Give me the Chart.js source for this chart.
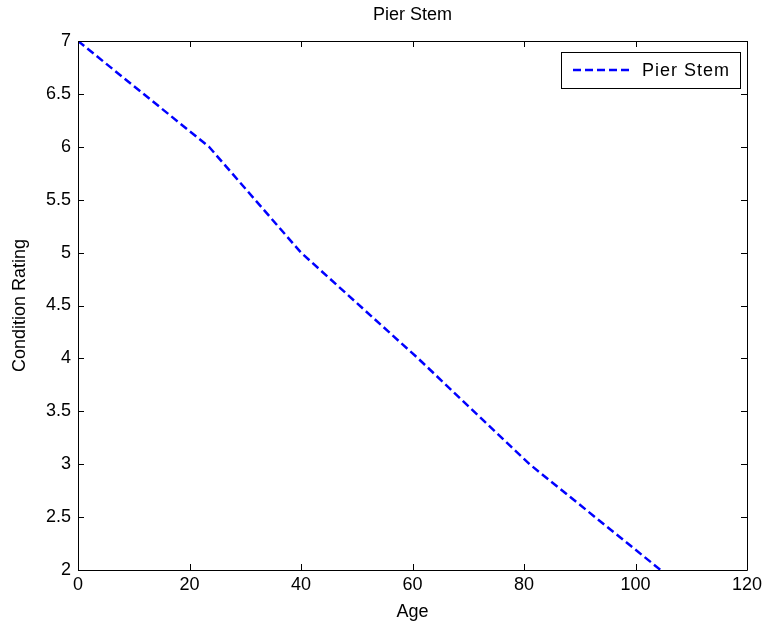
<!DOCTYPE html>
<html>
<head>
<meta charset="utf-8">
<title>Pier Stem</title>
<script src="https://cdn.jsdelivr.net/npm/chart.js@4.4.0/dist/chart.umd.min.js"></script>
<style>
  html, body { margin: 0; padding: 0; background: #fff; }
  #wrap { width: 767px; height: 630px; }
</style>
</head>
<body>
<div id="wrap"><canvas id="chart" width="767" height="630"></canvas></div>
<script>
// deterioration curve: age (years) vs condition rating
const ages = [0, 23.5, 40, 61, 81, 104.5];
const ratings = [7, 6, 5, 4, 3, 2];
const xTicks = [0, 20, 40, 60, 80, 100, 120];
const yTicks = [2, 2.5, 3, 3.5, 4, 4.5, 5, 5.5, 6, 6.5, 7];
const seriesName = 'Pier Stem';
const chartTitle = 'Pier Stem';

const FONT = 'Liberation Sans, Arial, Helvetica, sans-serif';
const FONT_SIZE = 18;

// box around the plot with ticks pointing inward, like matlab axes
const boxAxes = {
  id: 'boxAxes',
  afterDraw(chart) {
    const {ctx, chartArea: a, scales} = chart;
    const tl = 6;
    ctx.save();
    ctx.strokeStyle = '#000';
    ctx.lineWidth = 1;
    ctx.beginPath();
    ctx.rect(Math.round(a.left) + 0.5, Math.round(a.top) + 0.5,
      Math.round(a.right - a.left), Math.round(a.bottom - a.top));
    scales.x.ticks.forEach(t => {
      const px = Math.round(scales.x.getPixelForValue(t.value)) + 0.5;
      ctx.moveTo(px, a.bottom);
      ctx.lineTo(px, a.bottom - tl);
      ctx.moveTo(px, a.top);
      ctx.lineTo(px, a.top + tl);
    });
    scales.y.ticks.forEach(t => {
      const py = Math.round(scales.y.getPixelForValue(t.value)) + 0.5;
      ctx.moveTo(a.left, py);
      ctx.lineTo(a.left + tl, py);
      ctx.moveTo(a.right, py);
      ctx.lineTo(a.right - tl, py);
    });
    ctx.stroke();

    // title centred over the plot box
    ctx.fillStyle = '#000';
    ctx.font = FONT_SIZE + 'px ' + FONT;
    ctx.textAlign = 'center';
    ctx.textBaseline = 'middle';
    ctx.fillText(chartTitle, (a.left + a.right) / 2, 15);
    ctx.restore();
  }
};

// legend box in the upper right corner of the plot
const boxLegend = {
  id: 'boxLegend',
  afterDraw(chart) {
    const {ctx, chartArea: a} = chart;
    const ds = chart.data.datasets[0];
    ctx.save();
    ctx.font = FONT_SIZE + 'px ' + FONT;
    ctx.letterSpacing = '1px';
    const textW = ctx.measureText(ds.label).width;
    const h = 36;
    const right = Math.round(a.right) - 7;
    const top = Math.round(a.top) + 11;
    const w = 12 + 59 + 10 + textW + 10;
    const left = Math.round(right - w);
    ctx.fillStyle = '#fff';
    ctx.fillRect(left, top, right - left, h);
    ctx.strokeStyle = '#000';
    ctx.lineWidth = 1;
    ctx.strokeRect(left + 0.5, top + 0.5, right - left, h);
    ctx.strokeStyle = ds.borderColor;
    ctx.lineWidth = ds.borderWidth;
    ctx.setLineDash(ds.borderDash);
    ctx.beginPath();
    ctx.moveTo(left + 12, top + h / 2);
    ctx.lineTo(left + 71, top + h / 2);
    ctx.stroke();
    ctx.setLineDash([]);
    ctx.fillStyle = '#000';
    ctx.textBaseline = 'middle';
    ctx.fillText(ds.label, left + 81, top + h / 2 + 1);
    ctx.restore();
  }
};

new Chart(document.getElementById('chart'), {
  type: 'line',
  data: {
    datasets: [{
      label: seriesName,
      data: ages.map((a, i) => ({x: a, y: ratings[i]})),
      borderColor: '#0000ff',
      borderWidth: 2.5,
      borderDash: [8, 4],
      pointRadius: 0,
      tension: 0,
      fill: false
    }]
  },
  options: {
    responsive: false,
    animation: false,
    layout: {padding: {top: 41, right: 20, left: 0, bottom: 0}},
    plugins: {
      legend: {display: false},
      tooltip: {enabled: false},
      title: {display: false}
    },
    scales: {
      x: {
        type: 'linear',
        min: 0,
        max: 120,
        afterBuildTicks: s => { s.ticks = xTicks.map(v => ({value: v})); },
        afterFit: s => { s.height = 60; },
        grid: {display: false, drawTicks: false},
        border: {display: false},
        ticks: {color: '#000', padding: 4, maxRotation: 0,
          font: {family: FONT, size: FONT_SIZE}, callback: v => String(v)},
        title: {display: true, text: 'Age', color: '#000',
          font: {family: FONT, size: FONT_SIZE}, padding: {top: 0, bottom: 7}}
      },
      y: {
        type: 'linear',
        min: 2,
        max: 7,
        afterBuildTicks: s => { s.ticks = yTicks.map(v => ({value: v})); },
        afterFit: s => { s.width = 78; },
        grid: {display: false, drawTicks: false},
        border: {display: false},
        ticks: {color: '#000', padding: 7,
          font: {family: FONT, size: FONT_SIZE}, callback: v => String(v)},
        title: {display: true, text: 'Condition Rating', color: '#000',
          font: {family: FONT, size: FONT_SIZE}, padding: {top: 9, bottom: 0}}
      }
    }
  },
  plugins: [boxAxes, boxLegend]
});
</script>
</body>
</html>
